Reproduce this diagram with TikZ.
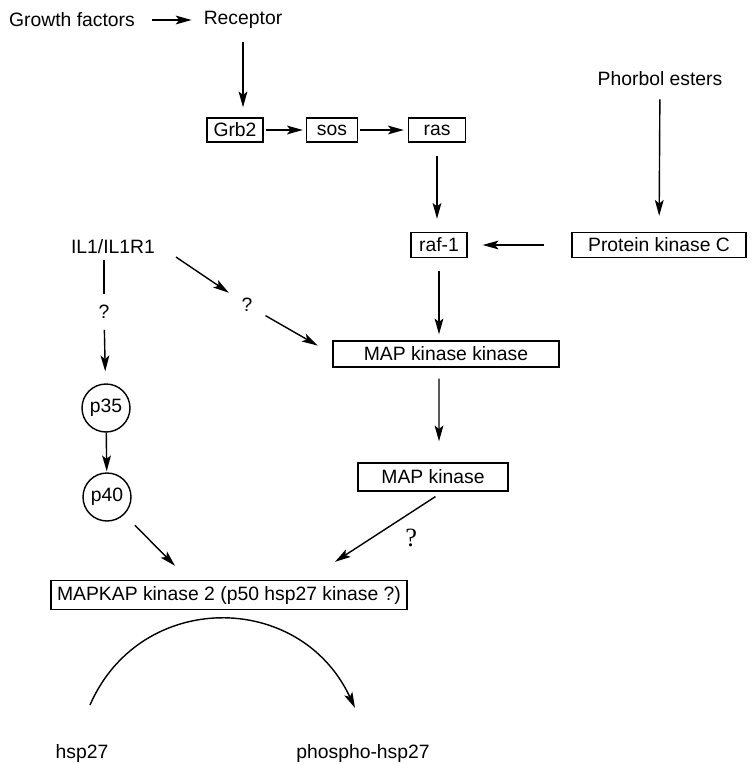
\documentclass[tikz,border=0pt]{standalone}
\usepackage{fontspec}
\setmainfont{Liberation Sans}
\newfontfamily\qfont{Liberation Serif}
\usetikzlibrary{arrows.meta,positioning}

\begin{document}
\begin{tikzpicture}[x=0.02cm,y=-0.02cm,font=\fontsize{11}{13}\selectfont,
  >={Stealth[length=9pt,width=5pt,inset=2pt]},
  prot/.style={draw,line width=.8pt,minimum height=.48cm,inner sep=1pt},
  kin/.style={draw,circle,line width=.8pt,minimum size=.96cm,inner sep=1pt},
  arr/.style={->,line width=.8pt}]
\useasboundingbox (0,0) rectangle (753,764);
% ligands
\node (grow) at (72,20) {Growth factors};
\node (rec) at (243,20) {Receptor};
\node (phorbol) at (660,79) {Phorbol esters};
\node (il) at (113,247) {IL1/IL1R1};
% receptor pathway
\node[prot,minimum width=1.12cm] (grb) at (235,130) {Grb2};
\node[prot,minimum width=1.02cm] (sos) at (332,130) {sos};
\node[prot,minimum width=1.14cm] (ras) at (437,130) {ras};
\node[prot,minimum width=1.12cm,minimum height=.5cm] (raf) at (439,245) {raf-1};
\node[prot,minimum width=3.48cm,minimum height=.5cm] (pkc) at (659,245) {Protein kinase C};
\node[prot,minimum width=4.52cm,minimum height=.52cm] (mkk) at (446,354) {MAP kinase kinase};
\node[prot,minimum width=3cm,minimum height=.56cm] (mk) at (433,477) {MAP kinase};
\node[prot,minimum width=7.12cm,minimum height=.58cm] (mapkap) at (229,595) {MAPKAP kinase 2 (p50 hsp27 kinase ?)};
% IL1 branch
\node (q1) at (104,312) {?};
\node (q2) at (247,305) {?};
\node[kin] (p35) at (106,408) {p35};
\node[kin] (p40) at (107,497) {p40};
% substrate
\node (hsp) at (82,753) {hsp27};
\node (phsp) at (363,753) {phospho-hsp27};
\coordinate (a1) at ([xshift=-1.08cm,yshift=.28cm]mapkap.north);
\coordinate (a2) at ([xshift=2.12cm,yshift=.36cm]mapkap.north);
\coordinate (s) at (90,705);
\coordinate (e) at (355,708);

\draw[arr,shorten <=.22cm,shorten >=.12cm] (grow) -- (rec);
\draw[arr,shorten <=.14cm,shorten >=.2cm] (rec.south) -- (rec.south |- grb.north);
\draw[arr,shorten <=.04cm,shorten >=.06cm] (grb) -- (sos);
\draw[arr,shorten <=.04cm,shorten >=.08cm] (sos) -- (ras);
\draw[arr,shorten <=.26cm,shorten >=.26cm] (ras.south) -- (ras.south |- raf.north);
\draw[arr,shorten <=.14cm,shorten >=.32cm] (phorbol) -- (pkc);
\draw[arr,shorten <=.54cm,shorten >=.3cm] (pkc) -- (raf);
\draw[arr,shorten <=.26cm,shorten >=.12cm] (raf.south) -- (raf.south |- mkk.north);
\draw[arr,shorten <=.22cm,shorten >=.42cm] ([xshift=-.14cm]mkk.south) -- ([xshift=.12cm]mk.north);
\draw[arr,shorten <=.18cm] ([xshift=.2cm]mk.south) -- (a2)
  node[pos=.42,below right=1pt,font=\qfont\fontsize{15}{17}\selectfont] {?};
\draw[line width=.8pt,shorten >=.1cm] (il.south -| q1) -- (q1);
\draw[arr,shorten <=.1cm,shorten >=.24cm] (q1) -- (p35);
\draw[arr,shorten >=.02cm] (p35) -- (p40);
\draw[arr,shorten <=.3cm] (p40) -- (a1);
\draw[arr,shorten <=.36cm,shorten >=.16cm] (il.east) -- (q2);
\draw[arr,shorten <=.16cm,shorten >=.34cm] (q2) -- (mkk.west);
\draw[arr] (s) .. controls (140,590) and (300,590) .. (e);
\end{tikzpicture}
\end{document}
